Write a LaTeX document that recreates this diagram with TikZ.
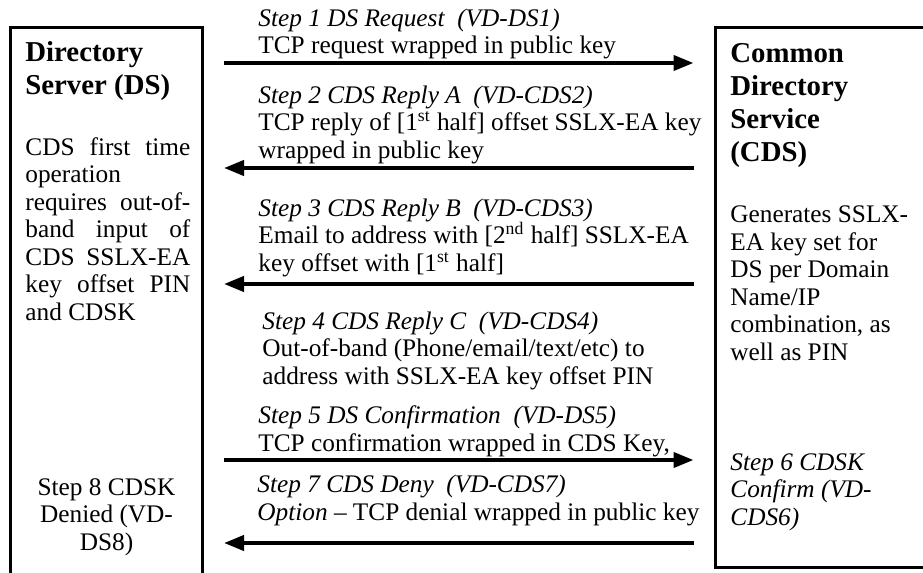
\documentclass[tikz,border=0pt]{standalone}
\usepackage{fontspec}
\setmainfont{Liberation Serif}
\usepackage{tikz}
\usetikzlibrary{arrows.meta, positioning}
\tikzstyle{party} = [rectangle, draw=black, line width=1.5pt, inner sep=0pt]
\tikzstyle{title} = [anchor=base west, align=left, inner sep=0pt, font=\fontsize{14.4}{16.5}\selectfont\bfseries]
\tikzstyle{body} = [anchor=base west, align=left, inner sep=0pt, font=\fontsize{12.65}{13.75}\selectfont]
\tikzstyle{msg} = [line width=2pt, -{Triangle[length=10pt,width=7.5pt]}, shorten <=10pt, shorten >=10pt]
\newcommand{\jline}[1]{\makebox[82.5pt][s]{#1}}

\begin{document}
\begin{tikzpicture}[x=0.5pt, y=-0.5pt]
    \useasboundingbox (0,0) rectangle (923,573);
    \clip (0,0) rectangle (923,573);

    % Parties (text nodes sit on their last baseline)
    \node[party, minimum width=96pt, minimum height=300pt, anchor=north west] (ds) at (9,25.5) {};
    \node[party, minimum width=120pt, minimum height=270pt, right=254.75pt of ds.north east, anchor=north west] (cds) {};

    \node[title] (dsname) at (25,94) {Directory\\Server (DS)};
    \node[body] (dsnote) at (25,320) {\jline{CDS first time}\\operation\\\jline{requires out-of-}\\\jline{band input of}\\\jline{CDS SSLX-EA}\\\jline{key offset PIN}\\and CDSK};
    \node[body, anchor=base, align=center] (dsdeny) at (106.5,550) {Step 8 CDSK\\Denied (VD-\\DS8)};

    \node[title] (cdsname) at (730,161) {Common\\Directory\\Service\\(CDS)};
    \node[body] (cdsnote) at (730,360) {Generates SSLX-\\EA key set for\\DS per Domain\\Name/IP\\combination, as\\well as PIN};
    \node[body, font=\fontsize{12.65}{13.75}\selectfont\itshape] (cdsconfirm) at (730,525) {Step 6 CDSK\\Confirm (VD-\\CDS6)};

    % Steps
    \node[body] (s1) at (258,54) {\textit{Step 1 DS Request~~(VD-DS1)}\\TCP request wrapped in public key};
    \node[body] (s2) at (258,158) {\textit{Step 2 CDS Reply A~~(VD-CDS2)}\\TCP reply of [1\textsuperscript{st} half] offset SSLX-EA key\\wrapped in public key};
    \node[body] (s3) at (258,271) {\textit{Step 3 CDS Reply B~~(VD-CDS3)}\\Email to address with [2\textsuperscript{nd} half] SSLX-EA\\key offset with [1\textsuperscript{st} half]};
    \node[body] (s4) at (262,384) {\textit{Step 4 CDS Reply C~~(VD-CDS4)}\\Out-of-band (Phone/email/text/etc) to\\address with SSLX-EA key offset PIN};
    \node[body] (s5) at (258,451) {\textit{Step 5 DS Confirmation~~(VD-DS5)}\\TCP confirmation wrapped in CDS Key,};
    \node[body] (s7) at (257,520) {\textit{Step 7 CDS Deny~~(VD-CDS7)}\\\textit{Option} -- TCP denial wrapped in public key};

    % Flow
    \coordinate (m1) at (0,63);
    \coordinate (m2) at (0,168);
    \coordinate (m3) at (0,284);
    \coordinate (m5) at (0,460);
    \coordinate (m7) at (0,543);
    \draw[msg] (ds.east |- m1) -- (cds.west |- m1);
    \draw[msg] (cds.west |- m2) -- (ds.east |- m2);
    \draw[msg] (cds.west |- m3) -- (ds.east |- m3);
    \draw[msg] (ds.east |- m5) -- (cds.west |- m5);
    \draw[msg] (cds.west |- m7) -- (ds.east |- m7);

\end{tikzpicture}
\end{document}
